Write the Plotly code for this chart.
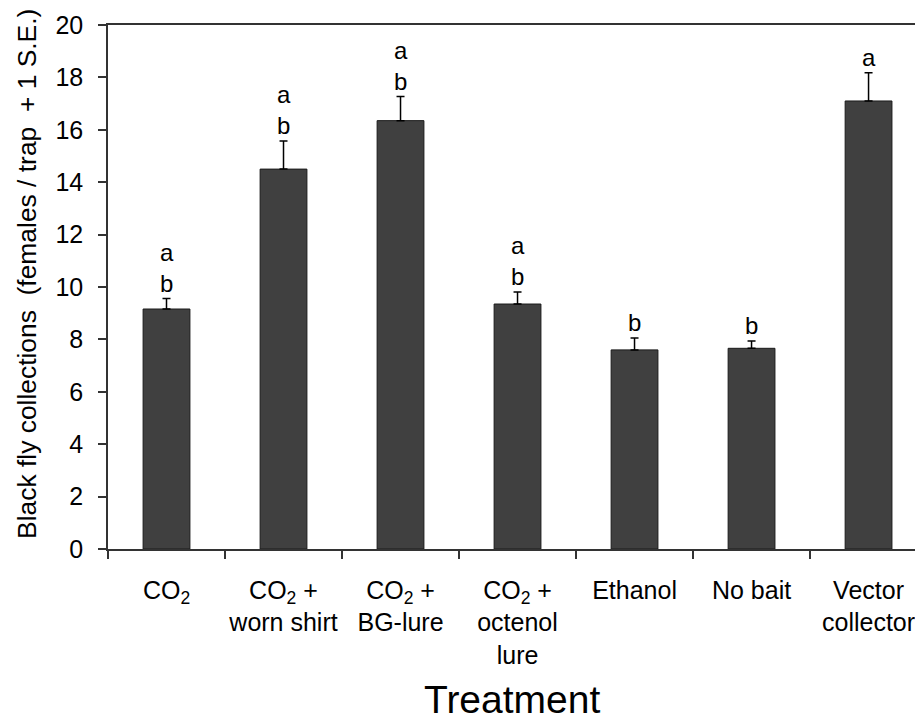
import plotly.graph_objects as go

categories = ["CO<sub>2</sub>", "CO<sub>2</sub> +<br>worn shirt", "CO<sub>2</sub> +<br>BG-lure",
              "CO<sub>2</sub> +<br>octenol<br>lure", "Ethanol", "No bait", "Vector<br>collector"]
means = [9.16, 14.5, 16.35, 9.35, 7.6, 7.66, 17.1]
se = [0.4, 1.07, 0.92, 0.46, 0.45, 0.28, 1.08]
letters = ["a<br>b", "a<br>b", "a<br>b", "a<br>b", "b", "b", "a"]
y_ticks = [0, 2, 4, 6, 8, 10, 12, 14, 16, 18, 20]

FONT = "Arial, Liberation Sans, sans-serif"

fig = go.Figure()
fig.add_trace(go.Bar(
    x=categories, y=means, width=0.4,
    marker=dict(color="#404040", line=dict(color="#1a1a1a", width=1)),
    error_y=dict(type="data", array=se, arrayminus=[0]*len(se), symmetric=False,
                 color="black", thickness=1.5, width=4),
    showlegend=False,
))

for c, m, s, l in zip(categories, means, se, letters):
    fig.add_annotation(x=c, y=m + s, text=l, showarrow=False, yanchor="bottom",
                       yshift=0, font=dict(size=24, color="black", family=FONT))

fig.add_annotation(xref="paper", yref="paper", x=0, y=0.525, xshift=-81,
                   xanchor="center", yanchor="middle", textangle=-90, showarrow=False,
                   text="Black fly collections\u00a0\u00a0(females / trap\u00a0\u00a0+ 1 S.E.)",
                   font=dict(size=26.4, family=FONT, color="black"))
fig.add_annotation(xref="paper", yref="paper", x=0.5, y=0, yshift=-127,
                   xanchor="center", yanchor="top", showarrow=False,
                   text="Treatment", font=dict(size=39, family=FONT, color="black"))

fig.update_layout(
    width=915, height=724,
    margin=dict(l=108, r=0, t=25, b=175, autoexpand=False),
    plot_bgcolor="white", paper_bgcolor="white",
    font=dict(family=FONT, color="black", size=25),
    xaxis=dict(
        type="category", range=[-0.5, 6.397], automargin=False, tickangle=0,
        showline=True, linecolor="#333", linewidth=1.5, mirror=True,
        ticks="outside", tickson="boundaries", ticklen=8, tickcolor="#333", tickwidth=1.5,
        ticklabelstandoff=18,
        tickfont=dict(size=25, family=FONT, color="black"),
        showgrid=False,
    ),
    yaxis=dict(
        range=[0, 20], tickvals=y_ticks, automargin=False,
        showline=True, linecolor="#333", linewidth=1.5,
        ticks="outside", ticklen=8, tickcolor="#333", tickwidth=1.5,
        ticklabelstandoff=10,
        tickfont=dict(size=25, family=FONT, color="black"),
        showgrid=False, zeroline=False,
    ),
)

fig.write_html("out.html", config={"displayModeBar": False},
               post_script="document.body.style.margin='0';")
